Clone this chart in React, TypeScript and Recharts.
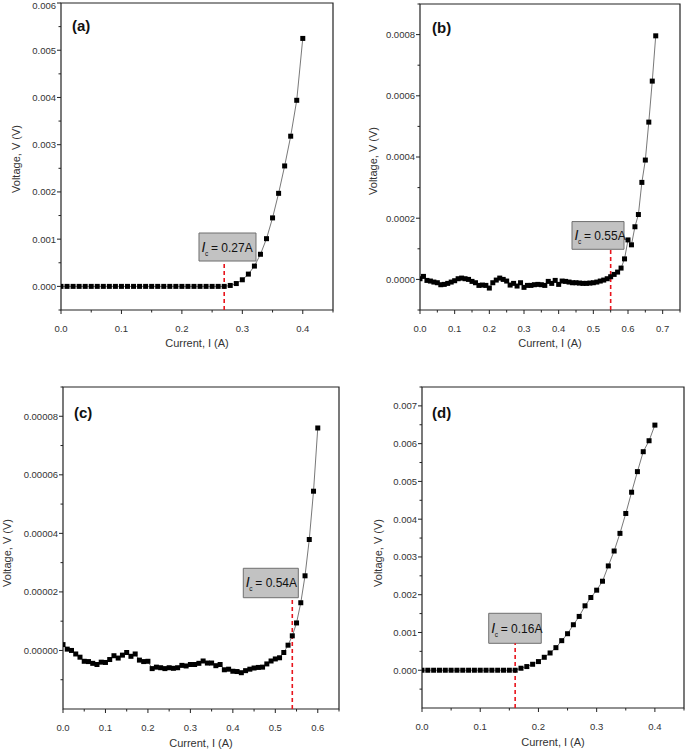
import React from 'react'
import { LineChart, Line, XAxis, YAxis, ReferenceArea, ReferenceLine } from 'recharts'

// current sweep (A), 10 mA steps
const currentB = [
  0, 0.01, 0.02, 0.03, 0.04, 0.05, 0.06, 0.07, 0.08, 0.09,
  0.1, 0.11, 0.12, 0.13, 0.14, 0.15, 0.16, 0.17, 0.18, 0.19,
  0.2, 0.21, 0.22, 0.23, 0.24, 0.25, 0.26, 0.27, 0.28, 0.29,
  0.3, 0.31, 0.32, 0.33, 0.34, 0.35, 0.36, 0.37, 0.38, 0.39,
  0.4, 0.41, 0.42, 0.43, 0.44, 0.45, 0.46, 0.47, 0.48, 0.49,
  0.5, 0.51, 0.52, 0.53, 0.54, 0.55, 0.56, 0.57, 0.58, 0.59,
  0.6, 0.61, 0.62, 0.63, 0.64, 0.65, 0.66, 0.67, 0.68,
]
const currentA = currentB.slice(0, 41)
const currentC = currentB.slice(0, 61)
const currentD = currentB.slice(0, 41)

// voltage readings (V)
const voltA = [
  0, 0, 0, 0, 0, 0, 0, 0, 0, 0,
  0, 0, 0, 0, 0, 0, 0, 0, 0, 0,
  0, 0, 0, 0, 0, 0, 0, 0,
  0.00002, 0.00006, 0.00014, 0.00026, 0.00043, 0.00068, 0.00101, 0.00145,
  0.00197, 0.00255, 0.00318, 0.00394, 0.00525,
]
const voltB = [
  0.0000022, 0.0000098, -0.0000033, -0.0000054, -0.0000087, -0.0000109, -0.0000174, -0.0000163, -0.000013, -0.0000087,
  -0.0000043, 0.0000022, 0.0000043, 0.0000022, 0, -0.0000065, -0.0000109, -0.0000196, -0.0000185, -0.0000196,
  -0.0000283, -0.0000109, -0.0000022, 0.0000043, 0, -0.0000054, -0.0000185, -0.000013, -0.0000217, -0.0000109,
  -0.000026, -0.0000196, -0.0000196, -0.0000174, -0.0000163, -0.0000174, -0.0000196, -0.0000065, -0.000013, -0.0000033,
  -0.0000163, -0.0000054, -0.0000065, -0.0000087, -0.0000109, -0.0000109, -0.000012, -0.000013, -0.000013, -0.000012,
  -0.0000109, -0.0000087, -0.0000054, -0.0000022, 0.0000022, 0.0000087, 0.0000163, 0.0000239, 0.000037, 0.000067,
  0.000129, 0.000113, 0.000172, 0.000212, 0.000317, 0.00039, 0.000514, 0.000648, 0.000796,
]
const voltC = [
  0.000002, 0.00000045, 0, -0.0000012, -0.0000023, -0.0000037, -0.0000038, -0.0000044, -0.0000048, -0.000004,
  -0.0000041, -0.0000031, -0.0000018, -0.0000026, -0.0000016, -0.0000007, -0.000002, -0.0000012, -0.0000033, -0.0000038,
  -0.0000037, -0.0000062, -0.0000057, -0.0000059, -0.0000062, -0.0000059, -0.0000061, -0.0000059, -0.0000051, -0.0000053,
  -0.0000048, -0.0000048, -0.0000044, -0.0000036, -0.0000043, -0.0000043, -0.0000052, -0.0000048, -0.0000066, -0.0000064,
  -0.0000071, -0.0000072, -0.0000076, -0.0000069, -0.0000064, -0.000006, -0.0000058, -0.0000057, -0.0000046, -0.0000036,
  -0.0000029, -0.0000025, -0.0000007, 0.0000018, 0.000005, 0.0000094, 0.0000163, 0.0000255, 0.0000379, 0.0000544,
  0.000076,
]
const voltD = [
  0, 0, 0, 0, 0, 0, 0, 0, 0, 0,
  0, 0, 0, 0, 0, 0, 0,
  0.000053, 0.000097, 0.000158, 0.000229, 0.000343, 0.000457, 0.000598, 0.000783,
  0.000967, 0.001205, 0.001425, 0.001706, 0.001926, 0.00212, 0.002357, 0.002762,
  0.003157, 0.003624, 0.004151, 0.004714, 0.005259, 0.005787, 0.006077, 0.006491,
]

// critical currents (A)
const criticalCurrents = [0.27, 0.55, 0.54, 0.16]
const criticalLabels = ['0.27A', '0.55A', '0.54A', '0.16A']
const panelTags = ['(a)', '(b)', '(c)', '(d)']

// ticks
const xMajorA = [0, 0.1, 0.2, 0.3, 0.4]
const xMinorA = [0.05, 0.15, 0.25, 0.35, 0.45]
const yMajorA = [0, 0.001, 0.002, 0.003, 0.004, 0.005, 0.006]
const yMinorA = [-0.0005, 0.0005, 0.0015, 0.0025, 0.0035, 0.0045, 0.0055]

const xMajorB = [0, 0.1, 0.2, 0.3, 0.4, 0.5, 0.6, 0.7]
const xMinorB = [0.05, 0.15, 0.25, 0.35, 0.45, 0.55, 0.65, 0.75]
const yMajorB = [0, 0.0002, 0.0004, 0.0006, 0.0008]
const yMinorB = [-0.0001, 0.0001, 0.0003, 0.0005, 0.0007, 0.0009]

const xMajorC = [0, 0.1, 0.2, 0.3, 0.4, 0.5, 0.6]
const xMinorC = [0.05, 0.15, 0.25, 0.35, 0.45, 0.55, 0.65]
const yMajorC = [0, 0.00002, 0.00004, 0.00006, 0.00008]
const yMinorC = [-0.00001, 0.00001, 0.00003, 0.00005, 0.00007, 0.00009]

const xMajorD = [0, 0.1, 0.2, 0.3, 0.4]
const xMinorD = [0.05, 0.15, 0.25, 0.35, 0.45]
const yMajorD = [0, 0.001, 0.002, 0.003, 0.004, 0.005, 0.006, 0.007]
const yMinorD = [-0.0005, 0.0005, 0.0015, 0.0025, 0.0035, 0.0045, 0.0055, 0.0065, 0.0075]

const FONT = 'Arial, "Liberation Sans", sans-serif'
const INK = '#222'

const zip = (xs: number[], vs: number[]) => xs.map((i, k) => ({ i, v: vs[k] }))
const near = (a: number, list: number[]) => list.some(b => Math.abs(a - b) < 1e-12)
const sorted = (a: number[], b: number[]) => [...a, ...b].sort((p, q) => p - q)

// margins leave 1px for the (invisible) axis strips
const panels = [
  {
    box: { left: 0, top: 0, width: 342, height: 360 },
    margin: { top: 3, left: 60, right: 9, bottom: 49 },
    data: zip(currentA, voltA),
    xDomain: [0, 0.45], yDomain: [-0.0005, 0.006],
    xMajor: xMajorA, xMinor: xMinorA, yMajor: yMajorA, yMinor: yMinorA, yDigits: 3,
    icBox: [0.2283, 0.3226, 0.000537, 0.00113],
    tag: [72, 25], yTitle: [16, 159], xTitle: [197, 343],
  },
  {
    box: { left: 342, top: 0, width: 343, height: 360 },
    margin: { top: 4, left: 77, right: 5, bottom: 49 },
    data: zip(currentB, voltB),
    xDomain: [0, 0.75], yDomain: [-0.0001, 0.0009],
    xMajor: xMajorB, xMinor: xMinorB, yMajor: yMajorB, yMinor: yMinorB, yDigits: 4,
    icBox: [0.4385, 0.5885, 0.0000984, 0.000189],
    tag: [432, 27], yTitle: [373, 161], xTitle: [550, 343],
  },
  {
    box: { left: 0, top: 360, width: 342, height: 391 },
    margin: { top: 27, left: 62, right: 3, bottom: 41 },
    data: zip(currentC, voltC),
    xDomain: [0, 0.65], yDomain: [-0.00002, 0.00009],
    xMajor: xMajorC, xMinor: xMinorC, yMajor: yMajorC, yMinor: yMinorC, yDigits: 5,
    icBox: [0.4246, 0.5542, 0.00001802, 0.00002807],
    tag: [74, 412], yTitle: [7, 553], xTitle: [201, 743],
  },
  {
    box: { left: 342, top: 360, width: 343, height: 391 },
    margin: { top: 27, left: 79, right: 1, bottom: 42 },
    data: zip(currentD, voltD),
    xDomain: [0, 0.45], yDomain: [-0.001, 0.0075],
    xMajor: xMajorD, xMinor: xMinorD, yMajor: yMajorD, yMinor: yMinorD, yDigits: 3,
    icBox: [0.1146, 0.2048, 0.000713, 0.001508],
    tag: [432, 412], yTitle: [378, 553], xTitle: [553, 742],
  },
]

const Square = (p: any) =>
  p.cx == null ? null : <rect x={p.cx - 2.5} y={p.cy - 2.5} width={5} height={5} fill="#000" />

const xTick = (majors: number[]) => (p: any) => {
  const major = near(p.payload.value, majors)
  return (
    <g>
      <line x1={p.x} x2={p.x} y1={p.y} y2={p.y + (major ? 4 : 2.5)} stroke={INK} />
      {major && (
        <text x={p.x} y={p.y + 22} textAnchor="middle" fontSize={9.5} fill="#333" fontFamily={FONT}>
          {p.payload.value.toFixed(1)}
        </text>
      )}
    </g>
  )
}

const yTick = (majors: number[], digits: number) => (p: any) => {
  const major = near(p.payload.value, majors)
  return (
    <g>
      <line x1={p.x} x2={p.x - (major ? 4 : 2.5)} y1={p.y} y2={p.y} stroke={INK} />
      {major && (
        <text x={p.x - 5} y={Math.max(p.y + 3.4, 8.5)} textAnchor="end" fontSize={9.5} fill="#333" fontFamily={FONT}>
          {p.payload.value.toFixed(digits)}
        </text>
      )}
    </g>
  )
}

const IcLabel = (props: any) => {
  const vb = props.viewBox
  if (!vb) return null
  const base = vb.y + vb.height / 2 + 4.5
  return (
    <g fontFamily={FONT} fill="#111">
      <text x={vb.x + 2.5} y={base} fontSize={14} fontStyle="italic">I</text>
      <text x={vb.x + 6} y={base + 4} fontSize={6.5}>c</text>
      <text x={vb.x + 12} y={base} fontSize={12}>= {props.text}</text>
    </g>
  )
}

function Panel({ idx }: { idx: number }) {
  const p = panels[idx]
  const [x1, x2, y1, y2] = p.icBox
  const ic = criticalCurrents[idx]
  return (
    <div style={{ position: 'absolute', left: p.box.left, top: p.box.top }}>
      <LineChart width={p.box.width} height={p.box.height} data={p.data} margin={p.margin}>
        <XAxis
          dataKey="i" type="number" domain={p.xDomain} ticks={sorted(p.xMajor, p.xMinor)}
          interval={0} height={1} tickSize={0} tickMargin={0} axisLine={false} tickLine={false}
          tick={xTick(p.xMajor)} allowDataOverflow
        />
        <YAxis
          type="number" domain={p.yDomain} ticks={sorted(p.yMajor, p.yMinor)}
          interval={0} width={1} tickSize={0} tickMargin={0} axisLine={false} tickLine={false}
          tick={yTick(p.yMajor, p.yDigits)} allowDataOverflow
        />
        <ReferenceArea
          x1={p.xDomain[0]} x2={p.xDomain[1]} y1={p.yDomain[0]} y2={p.yDomain[1]}
          fill="none" fillOpacity={0} stroke={INK} strokeWidth={1.2} ifOverflow="visible"
        />
        <ReferenceLine
          segment={[{ x: ic, y: p.yDomain[0] }, { x: ic, y: y1 }]}
          stroke="#e8141c" strokeWidth={1.6} strokeDasharray="4 3" ifOverflow="visible"
        />
        <Line
          dataKey="v" stroke="#555" strokeWidth={0.8} dot={<Square />}
          isAnimationActive={false} activeDot={false}
        />
        <ReferenceArea
          x1={x1} x2={x2} y1={y1} y2={y2} fill="#c2c2c2" fillOpacity={1}
          stroke="#6f6f6f" strokeWidth={1} ifOverflow="visible"
          label={<IcLabel text={criticalLabels[idx]} />}
        />
      </LineChart>
    </div>
  )
}

const textBase: React.CSSProperties = {
  position: 'absolute', fontFamily: FONT, whiteSpace: 'nowrap', lineHeight: 1,
}

export default function App() {
  return (
    <div style={{ position: 'absolute', left: 0, top: 0, width: 685, height: 751, background: '#fff', overflow: 'hidden' }}>
      {panels.map((p, k) => (
        <React.Fragment key={k}>
          <Panel idx={k} />
          <div style={{ ...textBase, left: p.tag[0], top: p.tag[1], transform: 'translateY(-50%)', fontSize: 15, fontWeight: 'bold', color: '#111' }}>
            {panelTags[k]}
          </div>
          <div style={{ ...textBase, left: p.yTitle[0], top: p.yTitle[1], transform: 'translate(-50%, -50%) rotate(-90deg)', fontSize: 11, color: '#333' }}>
            Voltage, V (V)
          </div>
          <div style={{ ...textBase, left: p.xTitle[0], top: p.xTitle[1], transform: 'translate(-50%, -50%)', fontSize: 11, color: '#333' }}>
            Current, I (A)
          </div>
        </React.Fragment>
      ))}
    </div>
  )
}
